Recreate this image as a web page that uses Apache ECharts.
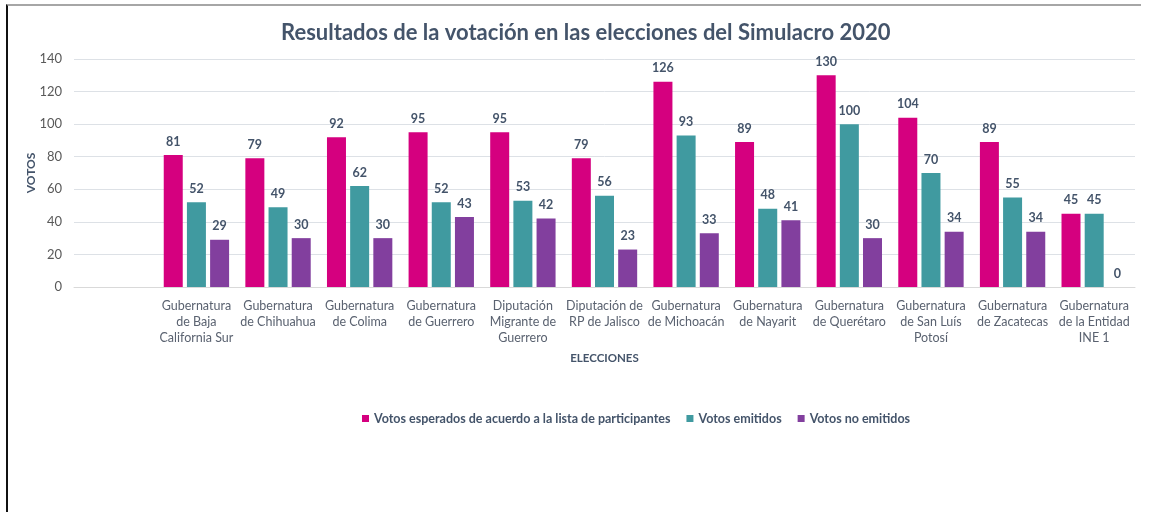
<!DOCTYPE html>
<html>
<head>
<meta charset="utf-8">
<script src="https://cdn.jsdelivr.net/npm/echarts@6/dist/echarts.min.js"></script>
<style>
  body { margin: 0; background: #fff; }
  #chart { position: absolute; left: 0; top: 0; width: 1149px; height: 512px; }
  #frame {
    position: absolute; left: 6px; top: 4px; width: 1133px; height: 510px;
    border-left: 2px solid #111; border-top: 2px solid #a6a6a6; pointer-events: none;
  }
</style>
</head>
<body>
<div id="chart"></div>
<div id="frame"></div>
<script>
// first slot is left empty, like in the original sheet
var categories = [
  "",
  "Gubernatura\nde Baja\nCalifornia Sur",
  "Gubernatura\nde Chihuahua",
  "Gubernatura\nde Colima",
  "Gubernatura\nde Guerrero",
  "Diputación\nMigrante de\nGuerrero",
  "Diputación de\nRP de Jalisco",
  "Gubernatura\nde Michoacán",
  "Gubernatura\nde Nayarit",
  "Gubernatura\nde Querétaro",
  "Gubernatura\nde San Luís\nPotosí",
  "Gubernatura\nde Zacatecas",
  "Gubernatura\nde la Entidad\nINE 1"
];
var esperados = ["-", 81, 79, 92, 95, 95, 79, 126, 89, 130, 104, 89, 45];
var emitidos = ["-", 52, 49, 62, 52, 53, 56, 93, 48, 100, 70, 55, 45];
var noEmitidos = ["-", 29, 30, 30, 43, 42, 23, 33, 41, 30, 34, 34, 0];
var seriesNames = [
  "Votos esperados de acuerdo a la lista de participantes",
  "Votos emitidos",
  "Votos no emitidos"
];
var yTicks = [0, 140, 20]; // min, max, interval

var font = "Lato, 'Open Sans', sans-serif";
var dark = "#44546a";

function barSeries(name, data) {
  return {
    name: name,
    type: "bar",
    data: data,
    barWidth: 19,
    barGap: "22%",
    label: {
      show: true,
      position: "top",
      distance: 7,
      color: dark,
      fontWeight: "bold",
      fontSize: 12.5,
      fontFamily: font
    }
  };
}

var option = {
  backgroundColor: "#ffffff",
  animation: false,
  textStyle: { fontFamily: font },
  title: {
    text: "Resultados de la votación en las elecciones del Simulacro 2020",
    left: 276,
    top: 17,
    textStyle: { color: dark, fontSize: 22, fontWeight: "bold", fontFamily: font }
  },
  color: ["#d5007f", "#409aa0", "#823f9e"],
  legend: {
    data: seriesNames,
    top: 407,
    left: 357,
    icon: "rect",
    itemWidth: 7,
    itemHeight: 7,
    itemGap: 16,
    textStyle: { color: dark, fontSize: 12.5, fontWeight: "bold", fontFamily: font }
  },
  grid: { left: 74, right: 14, top: 59, bottom: 225 },
  xAxis: {
    type: "category",
    data: categories,
    name: "ELECCIONES",
    nameLocation: "middle",
    nameGap: 65,
    nameTextStyle: { color: dark, fontWeight: "bold", fontSize: 11.5, fontFamily: font },
    axisLine: { lineStyle: { color: "#d9d9d9" } },
    axisTick: { show: false },
    axisLabel: {
      interval: 0,
      color: "#5a6270",
      fontSize: 12.5,
      lineHeight: 16,
      margin: 11,
      fontFamily: font
    }
  },
  yAxis: {
    type: "value",
    min: yTicks[0],
    max: yTicks[1],
    interval: yTicks[2],
    name: "VOTOS",
    nameLocation: "middle",
    nameGap: 37,
    nameMoveOverlap: false,
    nameTextStyle: { color: dark, fontWeight: "bold", fontSize: 12, fontFamily: font },
    axisLine: { show: false },
    axisTick: { show: false },
    axisLabel: { color: "#595959", fontSize: 13, margin: 12, fontFamily: font },
    splitLine: { lineStyle: { color: "#dde1e6" } }
  },
  series: [
    barSeries(seriesNames[0], esperados),
    barSeries(seriesNames[1], emitidos),
    barSeries(seriesNames[2], noEmitidos)
  ]
};

var myChart = echarts.init(document.getElementById("chart"));
myChart.setOption(option);
</script>
</body>
</html>
